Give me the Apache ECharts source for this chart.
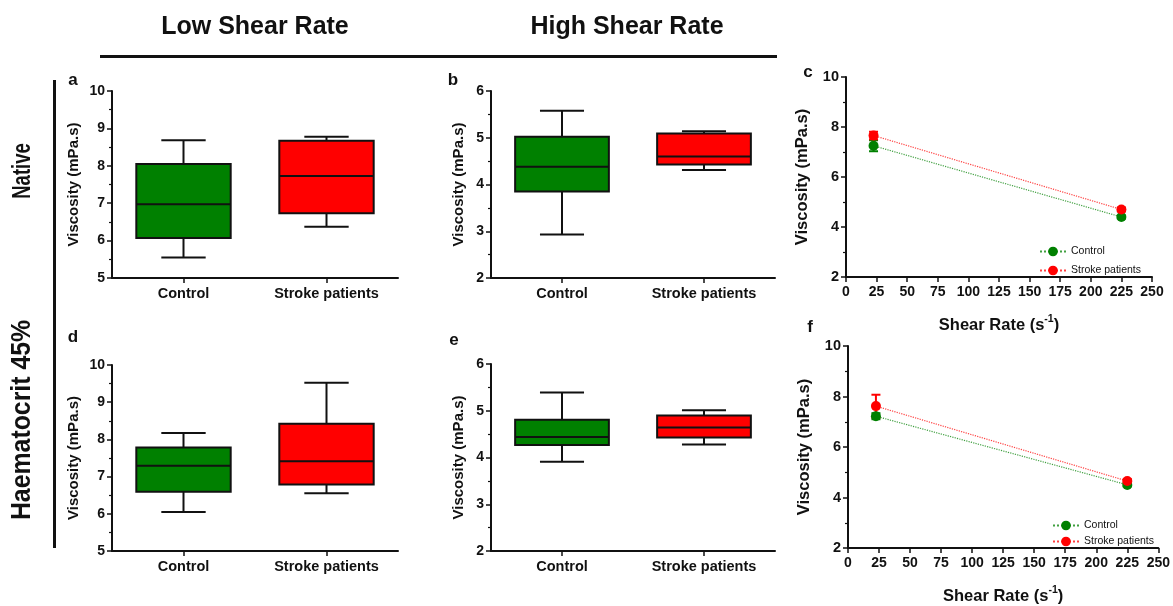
<!DOCTYPE html>
<html>
<head>
<meta charset="utf-8">
<script src="https://cdn.jsdelivr.net/npm/echarts@6/dist/echarts.min.js"></script>
<title>Viscosity</title>
<style>
  html, body { margin: 0; padding: 0; background: #fff; }
</style>
</head>
<body>
<div id="main" style="width:1173px;height:606px;"></div>
<script type="text/javascript">
// box plot data: [min, q1, median, q3, max]
var categories = ['Control', 'Stroke patients'];
var lowNativeControl = [5.55, 6.07, 6.97, 8.05, 8.68];
var lowNativeStroke = [6.37, 6.73, 7.73, 8.67, 8.78];
var highNativeControl = [2.93, 3.85, 4.38, 5.02, 5.58];
var highNativeStroke = [4.31, 4.43, 4.60, 5.09, 5.14];
var lowHctControl = [6.05, 6.59, 7.29, 7.78, 8.17];
var lowHctStroke = [6.55, 6.79, 7.41, 8.42, 9.52];
var highHctControl = [3.91, 4.27, 4.44, 4.81, 5.39];
var highHctStroke = [4.28, 4.43, 4.64, 4.90, 5.01];

// shear rate curves: mean and error
var shearRates = [22.5, 225];
var nativeControlMean = [7.25, 4.40];
var nativeControlErr = [0.22, 0.06];
var nativeStrokeMean = [7.66, 4.70];
var nativeStrokeErr = [0.15, 0.08];
var hctControlMean = [7.22, 4.50];
var hctControlErr = [0.12, 0.06];
var hctStrokeMean = [7.62, 4.65];
var hctStrokeErr = [0.45, 0.08];

var green = '#008000';
var red = '#ff0000';
var boxColors = [green, red];
var FONT = 'Liberation Sans, Arial, sans-serif';

var myChart = echarts.init(document.getElementById('main'));

function renderBox(params, api) {
    var i = api.value(0);
    var lo = api.coord([i, api.value(1)]);
    var q1 = api.coord([i, api.value(2)]);
    var md = api.coord([i, api.value(3)]);
    var q3 = api.coord([i, api.value(4)]);
    var hi = api.coord([i, api.value(5)]);
    var band = api.size([1, 0])[0];
    var w = band * 0.66, cw = w * 0.47;
    var cx = lo[0];
    function ln(x1, y1, x2, y2) {
        return { type: 'line', shape: { x1: x1, y1: y1, x2: x2, y2: y2 }, style: { stroke: '#111', lineWidth: 2 } };
    }
    return {
        type: 'group',
        children: [
            ln(cx, hi[1], cx, q3[1]),
            ln(cx, q1[1], cx, lo[1]),
            ln(cx - cw / 2, hi[1], cx + cw / 2, hi[1]),
            ln(cx - cw / 2, lo[1], cx + cw / 2, lo[1]),
            { type: 'rect', shape: { x: cx - w / 2, y: q3[1], width: w, height: q1[1] - q3[1] },
              style: { fill: boxColors[i], stroke: '#111', lineWidth: 2 } },
            ln(cx - w / 2, md[1], cx + w / 2, md[1])
        ]
    };
}

function boxSeries(idx, control, stroke) {
    return {
        type: 'custom',
        xAxisIndex: idx, yAxisIndex: idx,
        renderItem: renderBox,
        data: [[0].concat(control), [1].concat(stroke)],
        z: 3
    };
}

function errSeries(idx, means, errs, color) {
    var d = [];
    for (var k = 0; k < shearRates.length; k++) d.push([shearRates[k], means[k], errs[k]]);
    return {
        type: 'custom',
        xAxisIndex: idx, yAxisIndex: idx,
        z: 2,
        data: d,
        renderItem: function (params, api) {
            var x = api.value(0), m = api.value(1), e = api.value(2);
            var top = api.coord([x, m + e]);
            var bot = api.coord([x, m - e]);
            var st = function () { return { stroke: color, lineWidth: 2 }; };
            return {
                type: 'group',
                children: [
                    { type: 'line', shape: { x1: top[0], y1: top[1], x2: bot[0], y2: bot[1] }, style: st() },
                    { type: 'line', shape: { x1: top[0] - 4.5, y1: top[1], x2: top[0] + 4.5, y2: top[1] }, style: st() },
                    { type: 'line', shape: { x1: bot[0] - 4.5, y1: bot[1], x2: bot[0] + 4.5, y2: bot[1] }, style: st() }
                ]
            };
        }
    };
}

function lineSeries(idx, name, means, color, lineColor) {
    var d = [];
    for (var k = 0; k < shearRates.length; k++) d.push([shearRates[k], means[k]]);
    return {
        type: 'line', name: name,
        xAxisIndex: idx, yAxisIndex: idx,
        data: d,
        symbol: 'circle', symbolSize: 10,
        itemStyle: { color: color },
        lineStyle: { color: lineColor, width: 1.2, type: 'dotted' },
        z: 4
    };
}

var axisLine = { show: true, lineStyle: { color: '#111', width: 2 } };
var labelStyle = { color: '#111', fontWeight: 'bold', fontSize: 14, fontFamily: FONT };

function catAxis(idx) {
    return {
        type: 'category', gridIndex: idx, data: categories,
        axisLine: axisLine,
        axisTick: { show: true, alignWithLabel: true, length: 5, lineStyle: { color: '#111', width: 1.5 } },
        axisLabel: Object.assign({ margin: 8, interval: 0 }, labelStyle, { fontSize: 14.5 }),
        splitLine: { show: false }
    };
}

function valXAxis(idx) {
    return {
        type: 'value', gridIndex: idx, min: 0, max: 250, interval: 25,
        axisLine: axisLine,
        axisTick: { show: true, length: 5, lineStyle: { color: '#111', width: 1.5 } },
        axisLabel: Object.assign({ margin: 8 }, labelStyle, { fontSize: 14 }),
        splitLine: { show: false },
        name: '{a|Shear Rate (s}{s|-1}{a|)}',
        nameLocation: 'middle', nameGap: 37,
        nameTextStyle: {
            rich: {
                a: { fontSize: 16.5, fontWeight: 'bold', fontFamily: FONT, color: '#111', verticalAlign: 'bottom', lineHeight: 20 },
                s: { fontSize: 10.5, fontWeight: 'bold', fontFamily: FONT, color: '#111', verticalAlign: 'top', lineHeight: 20 }
            }
        }
    };
}

function yAxis(idx, min, max, interval, gap, big) {
    return {
        type: 'value', gridIndex: idx, min: min, max: max, interval: interval,
        axisLine: axisLine,
        axisTick: { show: true, length: 5, lineStyle: { color: '#111', width: 1.5 } },
        minorTick: { show: true, splitNumber: 2, length: 3, lineStyle: { color: '#111', width: 1.2 } },
        axisLabel: Object.assign({ margin: 7 }, labelStyle, { fontSize: big ? 14.5 : 14 }),
        splitLine: { show: false },
        name: 'Viscosity (mPa.s)',
        nameLocation: 'middle', nameGap: gap,
        nameTextStyle: { color: '#111', fontWeight: 'bold', fontSize: big ? 16.5 : 15, fontFamily: FONT }
    };
}

function txt(t, x, y, size, rot, sx) {
    return {
        type: 'text', x: x, y: y, rotation: rot || 0, scaleX: sx || 1,
        style: { text: t, fill: '#111', font: 'bold ' + size + 'px ' + FONT, align: 'center', verticalAlign: 'middle' }
    };
}

var option = {
    animation: false,
    backgroundColor: '#fff',
    grid: [
        { left: 112, top: 91, width: 286, height: 187 },
        { left: 491, top: 91, width: 284, height: 187 },
        { left: 846, top: 77, width: 306, height: 200 },
        { left: 112, top: 365, width: 286, height: 186 },
        { left: 491, top: 364, width: 284, height: 187 },
        { left: 848, top: 346, width: 312, height: 204 }
    ],
    xAxis: [catAxis(0), catAxis(1), valXAxis(2), catAxis(3), catAxis(4), valXAxis(5)],
    yAxis: [
        yAxis(0, 5, 10, 1, 31),
        yAxis(1, 2, 6, 1, 25),
        yAxis(2, 2, 10, 2, 35, true),
        yAxis(3, 5, 10, 1, 31),
        yAxis(4, 2, 6, 1, 25),
        yAxis(5, 2, 10, 2, 35, true)
    ],
    legend: [
        { orient: 'vertical', left: 1034, top: 241, itemGap: 8, itemWidth: 26, itemHeight: 12,
          textStyle: { fontSize: 10.5, color: '#111', fontFamily: FONT },
          data: ['Control', 'Stroke patients'] },
        { orient: 'vertical', left: 1047, top: 515, itemGap: 5, itemWidth: 26, itemHeight: 12,
          textStyle: { fontSize: 10.5, color: '#111', fontFamily: FONT },
          data: ['Control', 'Stroke patients'] }
    ],
    graphic: [
        txt('Low Shear Rate', 255, 27, 25),
        txt('High Shear Rate', 627, 27, 25),
        { type: 'rect', shape: { x: 100, y: 55, width: 677, height: 3 }, style: { fill: '#111' } },
        { type: 'rect', shape: { x: 53, y: 80, width: 3, height: 468 }, style: { fill: '#111' } },
        txt('Native', 23, 171, 25, Math.PI / 2, 0.74),
        txt('Haematocrit 45%', 23, 420, 27, Math.PI / 2, 0.92),
        txt('a', 73, 80, 17), txt('b', 453, 80, 17), txt('c', 808, 72, 17),
        txt('d', 73, 337, 17), txt('e', 454, 340, 17), txt('f', 810, 327, 17)
    ],
    series: [
        boxSeries(0, lowNativeControl, lowNativeStroke),
        boxSeries(1, highNativeControl, highNativeStroke),
        boxSeries(3, lowHctControl, lowHctStroke),
        boxSeries(4, highHctControl, highHctStroke),
        errSeries(2, nativeControlMean, nativeControlErr, green),
        errSeries(2, nativeStrokeMean, nativeStrokeErr, red),
        lineSeries(2, 'Control', nativeControlMean, green, 'rgba(0,128,0,0.75)'),
        lineSeries(2, 'Stroke patients', nativeStrokeMean, red, 'rgba(255,0,0,0.75)'),
        errSeries(5, hctControlMean, hctControlErr, green),
        errSeries(5, hctStrokeMean, hctStrokeErr, red),
        lineSeries(5, 'Control', hctControlMean, green, 'rgba(0,128,0,0.75)'),
        lineSeries(5, 'Stroke patients', hctStrokeMean, red, 'rgba(255,0,0,0.75)')
    ]
};

myChart.setOption(option);
</script>
</body>
</html>
